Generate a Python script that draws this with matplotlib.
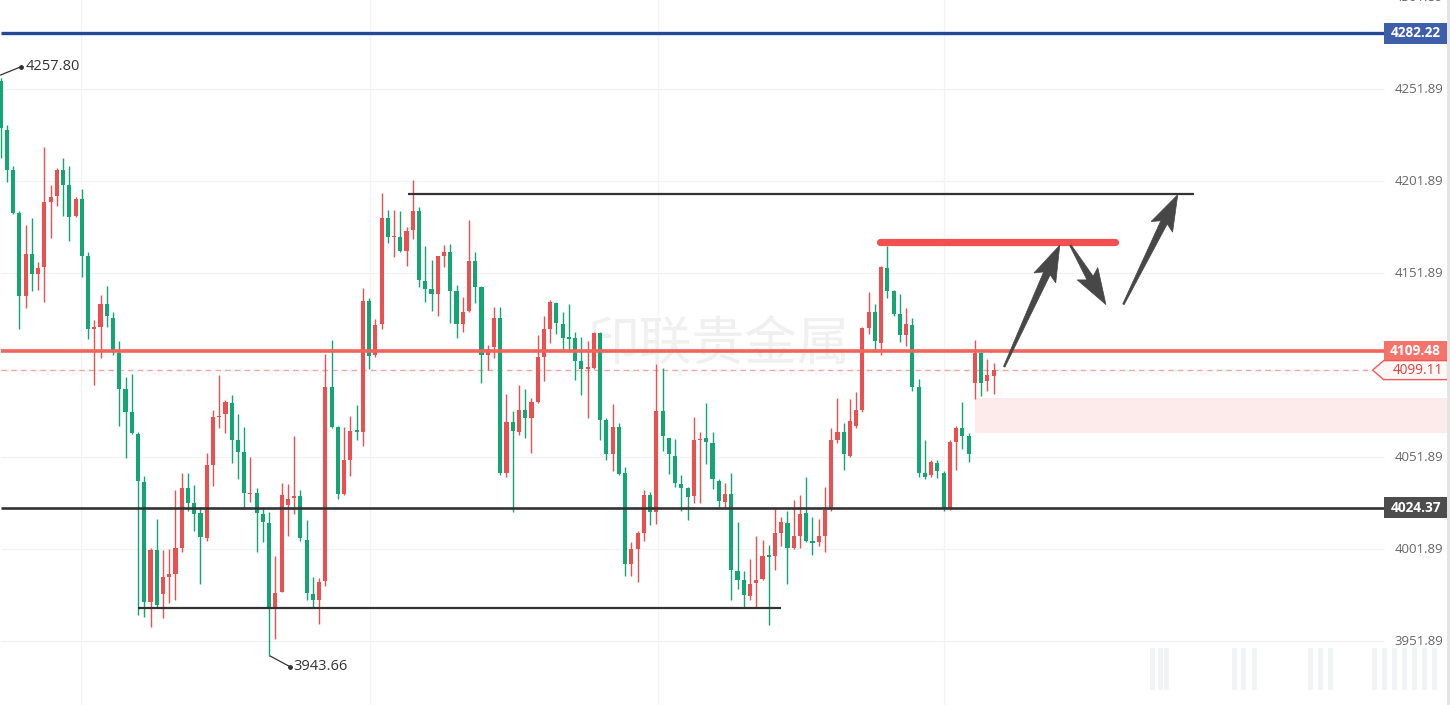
import matplotlib
matplotlib.use("Agg")
import matplotlib.pyplot as plt
from matplotlib.patches import Rectangle, Polygon
from matplotlib.transforms import IdentityTransform
import numpy as np

plt.rcParams['font.family'] = ['Open Sans', 'Noto Sans CJK SC', 'DejaVu Sans']

# ---------------- data (OHLC, oldest -> newest) ----------------
opens = [4256.3, 4229.5, 4207.6, 4184.5, 4139.5, 4162.0, 4151.3, 4154.9, 4190.5, 4193.5,
         4208.1, 4199.5, 4182.8, 4192.0, 4160.9, 4121.2, 4122.3, 4135.2, 4127.7, 4108.4,
         4089.1, 4076.2, 4064.4, 4038.3, 3973.3, 4001.2, 3977.6, 3986.6, 3988.3, 4002.7,
         4034.8, 4026.9, 4021.5, 4007.6, 4047.3, 4073.4, 4075.1, 4081.1, 4061.2, 4054.8,
         4031.6, 4032.3, 4021.1, 4016.2, 3969.7, 3978.7, 4025.8, 4029.6, 4030.5, 4007.0,
         3977.6, 3974.4, 3984.7, 4089.7, 4068.3, 4031.9, 4050.5, 4066.5, 4065.5, 4136.9,
         4107.3, 4124.0, 4181.9, 4171.2, 4171.6, 4164.1, 4175.5, 4185.6, 4147.6, 4143.3,
         4140.5, 4161.3, 4163.5, 4142.0, 4124.0, 4131.3, 4158.3, 4144.2, 4107.3, 4111.6,
         4127.7, 4043.4, 4070.9, 4065.5, 4077.3, 4073.0, 4082.0, 4106.2, 4121.2, 4135.8,
         4124.0, 4117.1, 4116.3, 4104.1, 4099.8, 4100.4, 4119.1, 4071.9, 4053.7, 4068.3,
         4043.4, 3993.7, 4001.8, 4010.8, 4031.2, 4022.0, 4076.9, 4062.3, 4052.6, 4037.0,
         4034.9, 4030.6, 4061.2, 4062.3, 4059.7, 4039.1, 4027.6, 4031.9, 3989.8, 3985.1,
         3976.5, 3983.4, 3985.5, 3998.4, 3998.0, 4010.4, 4016.2, 4002.2, 4009.1, 4021.5,
         4006.1, 4005.5, 4009.1, 4024.1, 4061.2, 4065.5, 4052.6, 4068.7, 4077.3, 4121.9,
         4130.9, 4113.7, 4154.5, 4142.0, 4129.8, 4118.0, 4123.4, 4089.7, 4043.0, 4041.9,
         4048.4, 4043.4, 4023.7, 4060.1, 4067.6, 4063.4, 4091.9, 4108.4, 4093.4, 4095.9]
highs = [4257.8, 4232.1, 4209.8, 4185.6, 4178.1, 4181.9, 4157.7, 4220.3, 4199.5, 4209.2,
         4214.5, 4209.8, 4193.1, 4197.8, 4163.1, 4126.2, 4140.1, 4144.8, 4130.5, 4114.8,
         4095.5, 4097.0, 4065.5, 4041.3, 4002.7, 4018.3, 4001.2, 4001.8, 4033.8, 4043.4,
         4043.4, 4036.6, 4024.8, 4054.1, 4077.7, 4096.2, 4082.7, 4085.8, 4075.1, 4068.3,
         4052.0, 4034.8, 4024.8, 4022.0, 3998.0, 4037.6, 4037.0, 4063.4, 4034.0, 4017.7,
         3986.8, 3986.2, 4107.7, 4115.5, 4068.7, 4068.3, 4074.1, 4079.9, 4143.8, 4138.4,
         4127.0, 4195.2, 4186.2, 4186.2, 4185.6, 4177.0, 4202.7, 4187.7, 4166.3, 4159.2,
         4161.3, 4167.3, 4167.8, 4145.5, 4139.0, 4180.6, 4163.5, 4144.8, 4112.7, 4133.5,
         4133.5, 4085.9, 4076.9, 4091.2, 4089.1, 4083.7, 4118.0, 4128.7, 4137.3, 4136.3,
         4130.5, 4134.8, 4119.7, 4117.0, 4114.8, 4119.7, 4119.7, 4073.0, 4080.5, 4070.4,
         4046.2, 4005.5, 4011.9, 4034.0, 4032.7, 4102.6, 4100.5, 4062.3, 4061.9, 4041.9,
         4035.5, 4073.4, 4065.5, 4081.1, 4065.5, 4039.8, 4037.6, 4043.4, 4016.8, 3989.8,
         3996.3, 4008.7, 4007.0, 4004.0, 4024.1, 4019.4, 4022.6, 4028.4, 4031.2, 4040.8,
         4019.4, 4018.3, 4035.5, 4067.6, 4083.7, 4070.4, 4083.3, 4087.0, 4122.3, 4141.6,
         4134.8, 4155.6, 4166.3, 4142.7, 4140.5, 4132.6, 4127.7, 4094.4, 4061.2, 4050.5,
         4050.5, 4044.1, 4061.2, 4068.7, 4082.0, 4064.9, 4115.5, 4109.1, 4105.2, 4103.0]
lows = [4214.5, 4201.6, 4184.1, 4121.2, 4133.0, 4142.1, 4142.7, 4136.3, 4171.0, 4188.4,
        4182.8, 4169.5, 4182.4, 4149.8, 4115.9, 4091.2, 4105.6, 4122.3, 4107.3, 4068.7,
        4051.1, 4064.4, 3966.0, 3964.7, 3959.4, 3970.1, 3964.3, 3972.3, 3974.4, 4000.1,
        4022.6, 4011.9, 3983.0, 4006.5, 4035.9, 4067.6, 4064.9, 4048.4, 4039.8, 4024.8,
        4027.6, 4000.5, 4005.5, 3943.66, 3952.9, 3978.7, 4009.1, 4021.1, 4006.5, 3974.4,
        3970.5, 3961.1, 3981.9, 4067.6, 4029.1, 4031.2, 4041.3, 4061.2, 4057.6, 4099.8,
        4106.2, 4121.2, 4168.4, 4160.5, 4163.1, 4155.5, 4170.6, 4144.2, 4136.3, 4131.3,
        4128.3, 4154.9, 4124.9, 4116.3, 4119.7, 4130.5, 4135.6, 4092.3, 4099.2, 4105.6,
        4041.9, 4040.8, 4022.0, 4064.0, 4062.3, 4054.2, 4081.1, 4093.4, 4113.7, 4118.5,
        4109.9, 4109.5, 4094.0, 4085.4, 4073.0, 4099.8, 4061.2, 4050.5, 4044.1, 4041.9,
        3987.2, 3987.2, 3984.0, 4006.5, 4015.1, 4015.6, 4055.4, 4042.9, 4035.5, 4022.6,
        4017.7, 4027.0, 4027.0, 4048.3, 4034.4, 4024.8, 4024.8, 3974.4, 3980.4, 3969.7,
        3974.0, 3970.5, 3985.1, 3960.4, 3990.5, 4003.3, 3983.0, 4001.8, 4002.2, 4005.5,
        3998.4, 4003.3, 4000.1, 4022.6, 4059.7, 4044.7, 4052.0, 4067.6, 4076.2, 4118.5,
        4109.9, 4107.3, 4138.4, 4128.3, 4114.2, 4112.0, 4087.6, 4040.8, 4039.8, 4040.8,
        4040.4, 4022.6, 4023.3, 4044.7, 4056.3, 4049.4, 4083.3, 4084.8, 4087.6, 4086.3]
closes = [4230.6, 4208.1, 4184.5, 4139.5, 4162.0, 4151.3, 4154.5, 4190.3, 4193.1, 4208.1,
          4199.5, 4182.4, 4192.0, 4160.9, 4121.2, 4122.3, 4135.2, 4128.3, 4109.5, 4089.1,
          4076.2, 4064.9, 4038.7, 3973.3, 4001.2, 3971.2, 3986.8, 3988.3, 4002.2, 4034.8,
          4026.9, 4021.1, 4008.3, 4047.3, 4073.4, 4074.1, 4081.6, 4061.2, 4054.8, 4032.3,
          4032.3, 4021.5, 4016.8, 3970.1, 3978.0, 4031.2, 4029.1, 4030.5, 4007.6, 3978.2,
          3974.4, 3984.0, 4089.7, 4068.3, 4031.9, 4050.5, 4066.1, 4065.5, 4136.9, 4106.9,
          4123.4, 4181.9, 4171.2, 4172.1, 4164.1, 4174.8, 4185.6, 4148.0, 4143.3, 4140.5,
          4161.3, 4163.5, 4142.0, 4124.0, 4130.9, 4158.3, 4144.2, 4107.3, 4110.5, 4127.7,
          4043.0, 4070.9, 4066.1, 4077.3, 4073.0, 4082.0, 4106.2, 4121.2, 4136.3, 4124.5,
          4116.3, 4115.9, 4104.1, 4099.8, 4100.9, 4119.1, 4071.9, 4053.7, 4068.3, 4042.6,
          3993.7, 4001.8, 4010.4, 4031.2, 4022.0, 4076.9, 4063.4, 4053.3, 4037.6, 4034.9,
          4030.1, 4061.2, 4061.9, 4060.1, 4039.8, 4028.0, 4031.9, 3990.5, 3985.1, 3977.0,
          3983.0, 3985.1, 3998.0, 3997.6, 4010.4, 4016.8, 4002.2, 4009.1, 4021.1, 4006.5,
          4005.3, 4008.7, 4023.3, 4061.2, 4065.5, 4053.3, 4071.3, 4077.7, 4121.9, 4130.9,
          4114.8, 4154.9, 4142.0, 4129.8, 4118.0, 4124.0, 4090.2, 4043.0, 4040.8, 4049.0,
          4044.1, 4023.7, 4060.1, 4067.6, 4063.4, 4053.3, 4108.4, 4092.3, 4096.6, 4099.11]

axis_ticks = [3951.89, 4001.89, 4051.89, 4151.89, 4201.89, 4251.89, 4301.89]
level_blue = 4282.22
level_red = 4109.48
level_last = 4099.11
level_support = 4024.37
range_top = 4194.8          # black segment (top of range)
range_bottom = 3969.7       # black segment (bottom of range)
target_red = 4168.7         # thick red target segment
gap_zone = (4064.9, 4083.9) # pink gap zone
high_label = 4257.80
low_label = 3943.66
watermark = "印联贵金属"

# projected path arrows: (tail_x, tail_price, tip_x, tip_price)
arrows = [(160.7, 4100.9, 169.6, 4167.0),
          (171.3, 4167.0, 177.0, 4134.7),
          (179.8, 4134.9, 188.5, 4194.5)]

# ---------------- figure ----------------
W, H = 1450, 705
PX = 6.245  # pixels per candle slot
fig = plt.figure(figsize=(W / 100, H / 100), dpi=100)
ax = fig.add_axes([0, 0, 1, 1])
ax.set_xlim(-0.1, W / PX - 0.1)
ax.set_ylim(3917.11, 4300.26)
ax.axis('off')
fig.patch.set_facecolor('white')

x_plot_end = 1383 / PX
x_box_l, x_box_r = 1383 / PX, 1447 / PX

# grid
ax.hlines(axis_ticks, 0, x_plot_end, color='#f2f2f2', lw=0.9, zorder=0)
grid_x = [12.8, 59.1, 105.2, 151.0]
ax.vlines(grid_x, 3917, 4301, color='#f3f3f3', lw=0.9, zorder=0)

# watermark
ax.text(115, 4113, watermark, fontsize=38, color='#f0f0f0', ha='center', va='center',
        family=['Noto Sans CJK SC'], fontweight='normal', zorder=0.5)

# gap zone
ax.add_patch(Rectangle((156.1, gap_zone[0]), x_box_r - 156.1, gap_zone[1] - gap_zone[0],
                       facecolor='#fdeaea', edgecolor='none', zorder=0.6))

# candles
o = np.array(opens); h = np.array(highs); l = np.array(lows); c = np.array(closes)
idx = np.arange(len(o))
up = c >= o
col_up, col_dn = '#ec4f4f', '#12a672'
colors = np.where(up, col_up, col_dn)
ax.vlines(idx, l, h, colors=colors, lw=1.0, zorder=2)
body_lo = np.minimum(o, c)
body_h = np.maximum(np.abs(c - o), 0.7)
ax.bar(idx, body_h, bottom=body_lo, width=0.66, color=colors, edgecolor='none', zorder=3)

# horizontal levels
ax.hlines(level_blue, 0, x_plot_end, color='#24479a', lw=2.4, zorder=4)
ax.hlines(level_red, 0, x_plot_end, color='#f0645c', lw=2.6, zorder=4)
ax.hlines(level_support, 0, x_plot_end, color='#333333', lw=1.9, zorder=4)
ax.hlines(level_last, 0, 1372 / PX, color='#f3a6a3', lw=1.0, linestyles=(0, (4, 3)), zorder=1.5)
ax.hlines(range_top, 407 / PX, 1193 / PX, color='#333333', lw=1.6, zorder=4)
ax.hlines(range_bottom, 137 / PX, 780 / PX, color='#333333', lw=1.6, zorder=4)
ax.plot([877 / PX + 0.4, 1117 / PX - 0.4], [target_red, target_red], color='#f25050',
        lw=5.2, solid_capstyle='round', zorder=5)

# high / low labels
ax.plot([0, 3.2], [4259.5, 4263.9], color='#333333', lw=0.9, zorder=5)
ax.plot([3.2], [4263.9], 'o', color='#333333', ms=2.5, zorder=5)
ax.text(4.0, 4263.9, f"{high_label:.2f}", fontsize=10.5, color='#333333', va='center', ha='left')
ax.plot([43.2, 46.4], [low_label, 3937.8], color='#333333', lw=0.9, zorder=5)
ax.plot([46.4], [3937.8], 'o', color='#333333', ms=2.5, zorder=5)
ax.text(46.9, 3937.9, f"{low_label:.2f}", fontsize=10.5, color='#333333', va='center', ha='left')

# right price axis labels
for t in axis_ticks:
    ax.text(1443 / PX, t, f"{t:.2f}", fontsize=9.5, color='#666666', ha='right', va='center',
            clip_on=False, zorder=6)

box_h = 21 / 1.84
def price_box(y, fc, tc='white'):
    ax.add_patch(Rectangle((x_box_l, y - box_h / 2), x_box_r - x_box_l, box_h,
                           facecolor=fc, edgecolor='none', zorder=7, clip_on=False))
    ax.text((x_box_l + x_box_r) / 2, y, f"{y:.2f}", fontsize=9.8, color=tc, ha='center',
            va='center', fontweight='bold', zorder=8)

price_box(level_blue, '#3e5ea9')
price_box(level_red, '#f4736b')
price_box(level_support, '#4d4d4d')

# last price arrow label
tip_x = 1372 / PX
bh = 19 / 1.84
poly = [(tip_x, level_last), (x_box_l, level_last + bh / 2), (x_box_r, level_last + bh / 2),
        (x_box_r, level_last - bh / 2), (x_box_l, level_last - bh / 2)]
ax.add_patch(Polygon(poly, closed=True, facecolor='#fff6f6', edgecolor='#ee5a55', lw=1.0, zorder=7.5))
ax.text((x_box_l + x_box_r) / 2 + 0.3, level_last, f"{level_last:.2f}", fontsize=9.8,
        color='#e0403c', ha='center', va='center', zorder=8)

# right border strip
fig.add_artist(Rectangle((1447 / W, 0), 3 / W, 1, transform=fig.transFigure,
                         facecolor='#e4e4e4', edgecolor='none'))

# projected path arrows (drawn in pixel space to keep shape)
fig.canvas.draw()
def arrow_poly(x0, y0, x1, y1, head_len=31, head_half=12, t0=0.8, t1=3.6):
    p0 = ax.transData.transform((x0, y0)); p1 = ax.transData.transform((x1, y1))
    d = p1 - p0; L = np.hypot(*d); u = d / L; n = np.array([-u[1], u[0]])
    b = p1 - u * head_len
    pts = [p0 + n * t0, b + n * t1, b - u * 5 + n * head_half, p1,
           b - u * 5 - n * head_half, b - n * t1, p0 - n * t0]
    return Polygon(pts, closed=True, facecolor='#474747', edgecolor='#474747', lw=0.5,
                   transform=IdentityTransform(), zorder=9)
for a in arrows:
    fig.add_artist(arrow_poly(*a))

# faint blurred watermark bars (bottom right)
wm_bars = [1150, 1158, 1164, 1232, 1241, 1252, 1308, 1318, 1328, 1372, 1382, 1392, 1402, 1412, 1422, 1432]
for bx in wm_bars:
    fig.add_artist(Rectangle((bx / W, 15 / H), 5 / W, 42 / H, transform=fig.transFigure,
                             facecolor='#cfd0d8', alpha=0.25, edgecolor='none'))

fig.savefig("out.png", dpi=100)
